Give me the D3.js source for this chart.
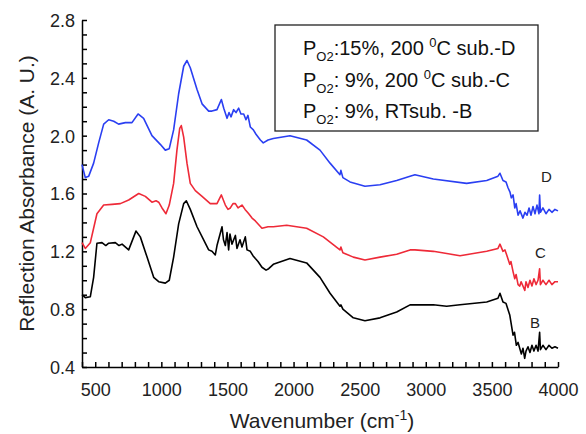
<!DOCTYPE html>
<html lang="en">
<head>
  <meta charset="UTF-8">
  <title>Reflection absorbance spectra</title>
  <script src="https://d3js.org/d3.v7.min.js"></script>
  <style>
    body { margin: 0; background: #fff; }
    svg { display: block; font-family: "Liberation Sans", Arial, Helvetica, sans-serif; }
    .axis path, .axis line { stroke: #000; stroke-width: 1.5; }
    .axis text { font-size: 18px; fill: #222; }
  </style>
</head>
<body>
<div id="chart"></div>
<script>
// wavenumber (cm-1) / absorbance pairs
const seriesD = [
  [400,1.80],[425,1.71],[451,1.72],[488,1.81],[526,1.95],[564,2.08],[602,2.11],[640,2.10],[677,2.08],[728,2.09],
  [778,2.09],[824,2.15],[866,2.12],[929,2.00],[992,1.94],[1030,1.90],[1060,1.91],[1093,2.04],[1131,2.29],[1169,2.48],
  [1194,2.52],[1219,2.47],[1270,2.32],[1308,2.22],[1358,2.17],[1383,2.17],[1421,2.18],[1454,2.25],[1472,2.19],[1497,2.12],
  [1512,2.16],[1527,2.13],[1547,2.18],[1565,2.16],[1585,2.19],[1602,2.15],[1623,2.15],[1640,2.11],[1655,2.14],[1673,2.06],
  [1696,2.04],[1716,2.01],[1749,1.97],[1771,1.95],[1807,1.97],[1847,1.98],[1973,2.00],[2099,1.97],[2200,1.90],[2276,1.81],
  [2351,1.73],[2358,1.76],[2373,1.71],[2427,1.68],[2540,1.65],[2654,1.66],[2780,1.69],[2881,1.72],[2918,1.73],[3057,1.70],
  [3309,1.67],[3461,1.69],[3546,1.72],[3561,1.74],[3584,1.69],[3607,1.68],[3622,1.64],[3637,1.61],[3647,1.57],[3660,1.59],
  [3673,1.50],[3683,1.53],[3698,1.45],[3713,1.48],[3735,1.43],[3750,1.47],[3766,1.45],[3781,1.50],[3796,1.45],[3811,1.51],
  [3826,1.46],[3841,1.52],[3856,1.46],[3861,1.59],[3867,1.47],[3886,1.50],[3909,1.46],[3932,1.49],[3954,1.47],[3977,1.49],
  [4000,1.48]
];
const seriesC = [
  [400,1.26],[425,1.22],[463,1.26],[513,1.46],[564,1.52],[627,1.525],[690,1.53],[753,1.555],[829,1.60],[879,1.58],
  [929,1.54],[960,1.55],[980,1.54],[1005,1.50],[1035,1.46],[1060,1.52],[1093,1.67],[1118,1.90],[1139,2.05],[1151,2.07],
  [1169,1.99],[1194,1.81],[1219,1.67],[1257,1.62],[1308,1.58],[1370,1.53],[1383,1.53],[1421,1.53],[1454,1.59],[1484,1.52],
  [1504,1.49],[1522,1.50],[1542,1.53],[1560,1.53],[1580,1.50],[1610,1.52],[1633,1.49],[1661,1.46],[1686,1.43],[1711,1.41],
  [1761,1.36],[1807,1.37],[1847,1.37],[1948,1.38],[2099,1.36],[2225,1.30],[2351,1.21],[2358,1.23],[2373,1.19],[2452,1.16],
  [2540,1.14],[2654,1.16],[2780,1.18],[2881,1.21],[2918,1.21],[3057,1.20],[3259,1.17],[3461,1.20],[3546,1.22],[3561,1.25],
  [3584,1.20],[3599,1.21],[3614,1.17],[3635,1.11],[3644,1.13],[3660,1.06],[3673,1.01],[3683,1.04],[3698,0.97],[3711,0.96],
  [3721,0.99],[3749,0.93],[3758,0.99],[3773,0.95],[3788,1.00],[3803,0.96],[3818,1.01],[3834,0.97],[3849,1.00],[3861,1.08],
  [3867,0.97],[3886,1.00],[3909,0.97],[3932,1.00],[3954,0.97],[3977,0.99],[4000,0.99]
];
const seriesB = [
  [400,0.90],[425,0.88],[463,0.886],[488,1.02],[513,1.256],[551,1.26],[580,1.24],[602,1.256],[652,1.26],[680,1.24],
  [703,1.25],[753,1.21],[808,1.34],[841,1.30],[892,1.16],[942,1.02],[980,0.99],[1030,0.98],[1060,1.00],[1093,1.16],
  [1131,1.39],[1169,1.53],[1189,1.55],[1219,1.49],[1270,1.37],[1320,1.28],[1358,1.21],[1383,1.20],[1408,1.175],[1421,1.24],
  [1459,1.37],[1470,1.28],[1484,1.24],[1497,1.33],[1509,1.21],[1519,1.32],[1534,1.25],[1560,1.31],[1572,1.22],[1595,1.28],
  [1610,1.23],[1635,1.30],[1648,1.21],[1673,1.20],[1693,1.17],[1711,1.15],[1731,1.13],[1761,1.09],[1792,1.07],[1812,1.08],
  [1847,1.11],[1973,1.15],[2099,1.12],[2200,1.02],[2276,0.91],[2351,0.82],[2358,0.83],[2373,0.80],[2452,0.74],[2540,0.72],
  [2654,0.74],[2780,0.78],[2881,0.83],[2918,0.83],[3057,0.83],[3158,0.82],[3259,0.83],[3461,0.85],[3546,0.875],[3561,0.91],
  [3584,0.85],[3607,0.84],[3635,0.76],[3644,0.71],[3660,0.62],[3671,0.64],[3685,0.55],[3698,0.57],[3723,0.49],[3735,0.53],
  [3748,0.46],[3758,0.51],[3773,0.54],[3788,0.50],[3803,0.55],[3818,0.51],[3834,0.55],[3849,0.51],[3861,0.64],[3867,0.52],
  [3886,0.55],[3909,0.52],[3932,0.55],[3954,0.53],[3977,0.54],[4000,0.53]
];
const seriesNames = ["D", "C", "B"];
const seriesColors = ["#2a3ff2", "#ee2a38", "#000000"];
const legendRows = [
  { sub: "O2", rest: ":15%, 200 ", sup: "0", tail: "C sub.-D" },
  { sub: "O2", rest: ": 9%, 200 ", sup: "0", tail: "C sub.-C" },
  { sub: "O2", rest: ": 9%, RTsub. -B", sup: "", tail: "" }
];
// where the D / C / B tags sit (wavenumber, absorbance of baseline)
const tagX = [3872, 3826, 3788];
const tagY = [1.68, 1.154, 0.67];

const width = 586, height = 434;
const margin = { top: 20, right: 28, bottom: 67, left: 82 };

const svg = d3.select("#chart").append("svg")
  .attr("width", width)
  .attr("height", height);

const x = d3.scaleLinear().domain([400, 4000]).range([margin.left, width - margin.right]);
const y = d3.scaleLinear().domain([0.4, 2.8]).range([height - margin.bottom, margin.top]);

// axes, ticks pointing inward
const xAxis = d3.axisBottom(x)
  .tickValues(d3.range(400, 4001, 100))
  .tickFormat(d => d % 500 === 0 ? d : "")
  .tickSizeInner(-5).tickSizeOuter(0).tickPadding(16);
const yAxis = d3.axisLeft(y)
  .tickValues(d3.range(4, 29).map(d => d / 10))
  .tickFormat(d => Math.round(d * 10) % 4 === 0 ? d3.format(".1f")(d) : "")
  .tickSizeInner(-5).tickSizeOuter(0).tickPadding(7);

svg.append("g").attr("class", "axis")
  .attr("transform", `translate(0,${height - margin.bottom})`)
  .call(xAxis);
svg.append("g").attr("class", "axis")
  .attr("transform", `translate(${margin.left},0)`)
  .call(yAxis)
  .selectAll("text").attr("dy", "0.36em");

// lines
const line = d3.line().x(d => x(d[0])).y(d => y(d[1]));
[seriesD, seriesC, seriesB].forEach((s, i) => {
  svg.append("path")
    .datum(s)
    .attr("fill", "none")
    .attr("stroke", seriesColors[i])
    .attr("stroke-width", 1.6)
    .attr("stroke-linejoin", "round")
    .attr("d", line);
});

// series tags at right end
seriesNames.forEach((n, i) => {
  svg.append("text")
    .attr("x", x(tagX[i]))
    .attr("y", y(tagY[i]))
    .attr("font-size", 15)
    .attr("fill", "#222")
    .text(n);
});

// axis titles
const xt = svg.append("text")
  .attr("x", 322)
  .attr("y", 428)
  .attr("text-anchor", "middle")
  .attr("font-size", 21)
  .attr("fill", "#222");
xt.append("tspan").text("Wavenumber (cm");
xt.append("tspan").attr("dy", -8).attr("font-size", 14).text("-1");
xt.append("tspan").attr("dy", 8).text(")");

svg.append("text")
  .attr("transform", `translate(34,${(margin.top + height - margin.bottom) / 2}) rotate(-90)`)
  .attr("text-anchor", "middle")
  .attr("font-size", 21)
  .attr("fill", "#222")
  .text("Reflection Absorbance (A. U.)");

// legend box
svg.append("rect")
  .attr("x", 275).attr("y", 25)
  .attr("width", 263).attr("height", 106)
  .attr("fill", "#fff").attr("stroke", "#222").attr("stroke-width", 1.3);

legendRows.forEach((r, i) => {
  const t = svg.append("text")
    .attr("x", 303).attr("y", 55 + i * 31.7)
    .attr("font-size", 20).attr("fill", "#111");
  t.append("tspan").text("P");
  t.append("tspan").attr("dy", 6).attr("font-size", 13).text(r.sub);
  t.append("tspan").attr("dy", -6).text(r.rest);
  if (r.sup) {
    t.append("tspan").attr("dy", -8).attr("font-size", 13).text(r.sup);
    t.append("tspan").attr("dy", 8).text(r.tail);
  }
});
</script>
</body>
</html>
